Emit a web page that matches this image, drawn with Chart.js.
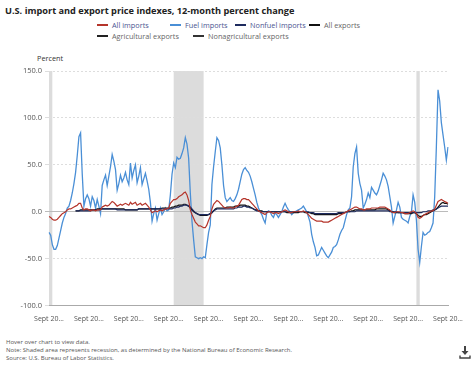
<!DOCTYPE html>
<html>
<head>
<meta charset="utf-8">
<script src="https://cdn.jsdelivr.net/npm/chart.js@4.4.1/dist/chart.umd.min.js"></script>
<style>
  body { margin: 0; background: #fff; font-family: "Open Sans", sans-serif; }
  #wrap { position: relative; width: 475px; height: 366px; overflow: hidden; }
  .title { position: absolute; left: 5px; top: 4px; font-size: 9.2px; font-weight: bold; color: #222; white-space: nowrap; }
  .leg { position: absolute; font-size: 7.3px; display: flex; align-items: center; white-space: nowrap; line-height: 10px; }
  .leg i { display: inline-block; width: 11px; height: 2px; margin-right: 4px; }
  .unit { position: absolute; left: 37px; top: 53px; font-size: 7.3px; color: #333; }
  #box { position: absolute; left: 0; top: 50px; width: 475px; height: 282px; }
  .foot { position: absolute; left: 6px; top: 338px; font-size: 6px; line-height: 8px; color: #555; }
  .dl { position: absolute; left: 459px; top: 345px; }
</style>
</head>
<body>
<div id="wrap">
  <div class="title">U.S. import and export price indexes, 12-month percent change</div>
  <div id="legend"></div>
  <div class="unit">Percent</div>
  <div id="box"><canvas id="chart"></canvas></div>
  <div class="foot">Hover over chart to view data.<br>Note: Shaded area represents recession, as determined by the National Bureau of Economic Research.<br>Source: U.S. Bureau of Labor Statistics.</div>
  <svg class="dl" width="12" height="14" viewBox="0 0 12 14">
    <path d="M6 1 V8" stroke="#444" stroke-width="2"/>
    <path d="M2.5 6 L9.5 6 L6 10 Z" fill="#444"/>
    <path d="M1 10.5 V13 H11 V10.5" stroke="#444" stroke-width="1.4" fill="none"/>
  </svg>
</div>
<script>
// months run Sept 2001 .. Sept 2021
const monthNames = ['Sept','Oct','Nov','Dec','Jan','Feb','Mar','Apr','May','June','July','Aug'];
const firstYear = 2001;
const monthCount = 241;

const seriesNames = ['All imports', 'Fuel imports', 'Nonfuel imports', 'All exports', 'Agricultural exports', 'Nonagricultural exports'];
const seriesColors = ['#b5352b', '#4a8fd6', '#1e2b5e', '#111111', '#222222', '#333333'];

// recessions (NBER), as month labels
const recessionStart = ['Sept 2001', 'Dec 2007', 'Feb 2020'];
const recessionEnd = ['Nov 2001', 'June 2009', 'Apr 2020'];

const yTicks = [-100, -50, 0, 50, 100, 150];

const fuelImports = [
  -22,-25,-35,-40,-40,-36,-28,-20,-12,-6,-2,4,
  6,12,20,30,42,60,80,84,40,6,14,18,
  14,6,16,12,4,13,6,-2,28,34,39,28,
  38,48,61,54,45,23,30,39,32,36,42,34,
  29,52,36,44,50,31,38,47,29,35,41,33,
  24,10,-10,-2,4,-9,-2,4,-3,0,4,1,
  2,18,40,52,47,58,56,57,62,68,79,72,
  57,20,-10,-30,-48,-49,-50,-49,-50,-48,-49,-35,
  -22,-14,29,48,64,79,76,68,50,28,15,11,
  13,15,12,11,14,18,24,32,40,45,47,44,
  42,38,32,25,18,10,4,0,-3,-8,-12,-1,
  1,0,-4,-6,-1,-3,-6,-3,0,5,9,5,
  2,0,-3,-1,0,1,2,3,4,6,3,0,
  -5,-11,-24,-32,-38,-47,-46,-42,-38,-41,-44,-47,
  -49,-46,-43,-38,-37,-35,-30,-24,-20,-17,-10,-3,
  2,4,16,48,62,69,41,30,23,4,8,13,
  20,15,26,23,20,18,22,28,34,41,38,34,
  27,16,5,-12,-5,2,10,5,-6,-8,-9,-10,
  -12,-5,0,18,10,-9,-40,-54,-37,-22,-25,-24,
  -22,-21,-17,-12,16,69,130,118,95,82,69,55,
  69
];

const allImports = [
  -5,-6,-8,-9,-9,-8,-6,-4,-2,-1,0,2,
  3,3,4,5,6,7,9,9,4,2,3,3,
  2,1,2,2,1,2,2,2,5,6,7,6,
  7,9,11,10,8,6,7,8,7,8,9,8,
  7,10,8,9,10,7,8,9,7,8,9,7,
  5,2,-1,0,1,0,1,2,1,2,3,3,
  4,9,11,13,13,14,16,17,18,20,21,18,
  12,2,-3,-7,-11,-13,-15,-15,-16,-17,-17,-14,
  -9,-5,3,8,10,12,11,9,7,5,4,4,
  4,5,4,4,5,6,7,10,13,14,14,13,
  13,11,9,7,5,3,1,0,-1,-2,-3,-1,
  0,0,-1,-2,-1,-1,-2,-1,0,1,2,1,
  0,-1,-1,0,0,0,1,0,0,1,0,-1,
  -3,-5,-7,-8,-9,-10,-10,-10,-10,-11,-11,-11,
  -11,-10,-9,-8,-7,-6,-5,-4,-3,-2,-1,0,
  1,2,3,4,5,5,4,3,3,2,2,3,
  3,3,4,4,4,4,4,5,5,5,5,4,
  3,2,0,-1,-1,0,0,0,-1,-1,-2,-2,
  -2,-1,0,1,0,-2,-6,-7,-6,-4,-3,-2,
  -1,0,1,1,3,7,11,12,13,12,11,10,
  9
];

const nonfuelImports = [
  null,null,null,null,null,null,null,null,null,null,null,null,
  null,null,null,null,1,1,1,1,1,1,1,1,
  1,1,2,2,2,2,2,3,3,3,3,3,
  3,3,3,3,3,2,2,2,2,2,2,2,
  2,2,2,2,2,2,3,3,3,3,3,3,
  3,3,3,3,3,3,3,3,3,3,3,3,
  3,3,3,4,4,5,5,6,6,7,7,7,
  6,5,3,1,-1,-2,-3,-3,-3,-3,-3,-3,
  -3,-2,-1,1,2,3,3,3,3,3,3,3,
  3,3,3,3,4,4,5,5,5,6,6,5,
  5,4,4,3,2,1,1,0,0,0,0,0,
  0,0,0,0,0,0,0,0,0,0,0,0,
  0,0,0,0,0,0,0,0,0,0,0,0,
  0,-1,-1,-1,-2,-2,-2,-2,-2,-2,-2,-2,
  -2,-2,-2,-2,-2,-2,-1,-1,-1,-1,-1,0,
  0,0,0,0,0,1,1,1,1,1,1,1,
  1,1,1,1,1,1,1,1,1,1,1,1,
  1,0,0,0,0,0,-1,-1,-1,-1,-1,-1,
  -1,-1,-1,-1,-1,-1,-1,-1,-1,0,0,0,
  1,1,1,2,2,3,4,5,6,6,6,6,
  6
];

const allExports = [
  null,null,null,null,null,null,null,null,null,null,null,null,
  null,null,null,null,1,1,1,2,2,2,2,2,
  2,2,2,2,2,3,3,3,3,3,3,3,
  3,3,3,3,3,3,3,3,3,3,2,2,
  2,2,2,2,2,2,3,3,3,3,3,3,
  3,3,3,3,3,3,3,3,4,4,4,4,
  4,4,5,5,6,6,7,7,7,8,8,7,
  6,4,2,0,-1,-2,-3,-4,-4,-4,-4,-4,
  -3,-2,-1,1,3,4,4,4,4,4,4,5,
  5,5,5,5,6,6,6,7,7,7,7,6,
  6,5,4,3,2,2,1,1,1,0,0,0,
  0,0,0,0,0,0,0,0,0,0,0,-1,
  -1,-1,-1,-1,-1,-1,-1,0,0,0,-1,-1,
  -1,-1,-2,-2,-3,-3,-3,-3,-3,-3,-3,-3,
  -3,-3,-3,-3,-3,-3,-2,-2,-2,-1,-1,0,
  0,0,1,1,2,2,2,2,2,2,2,2,
  2,2,2,2,2,3,3,3,3,3,3,3,
  2,1,0,0,-1,-1,-1,-1,-1,-1,-2,-2,
  -2,-2,-2,-1,-1,-2,-4,-5,-5,-4,-3,-3,
  -2,-1,0,1,2,3,5,7,9,10,9,9,
  8
];

const agriculturalExports = [];
const nonagriculturalExports = [];

const seriesData = [allImports, fuelImports, nonfuelImports, allExports, agriculturalExports, nonagriculturalExports];

// month labels
const labels = [];
for (let i = 0; i < monthCount; i++) {
  labels.push(monthNames[i % 12] + ' ' + (firstYear + Math.floor((i + 8) / 12)));
}

// html legend, two rows like the original
const legendPos = [[97, 20], [170, 20], [235, 20], [309, 20], [97, 31], [193, 31]];
const legendText = ['#4b5590', '#4b5590', '#4b5590', '#666', '#666', '#666'];
const legendEl = document.getElementById('legend');
seriesNames.forEach(function(name, i) {
  const d = document.createElement('div');
  d.className = 'leg';
  d.style.left = legendPos[i][0] + 'px';
  d.style.top = legendPos[i][1] + 'px';
  d.style.color = legendText[i];
  d.innerHTML = '<i style="background:' + seriesColors[i] + '"></i>' + name;
  legendEl.appendChild(d);
});

// grey recession bands
const recessionBands = {
  id: 'recessionBands',
  beforeDraw(chart) {
    const ctx = chart.ctx;
    const x = chart.scales.x;
    const area = chart.chartArea;
    ctx.save();
    ctx.fillStyle = '#dcdcdc';
    for (let i = 0; i < recessionStart.length; i++) {
      const x0 = x.getPixelForValue(labels.indexOf(recessionStart[i]));
      const x1 = x.getPixelForValue(labels.indexOf(recessionEnd[i]));
      ctx.fillRect(x0, area.top, Math.max(x1 - x0, 3), area.bottom - area.top);
    }
    ctx.restore();
  }
};

const font = { family: '"Open Sans", sans-serif' };

new Chart(document.getElementById('chart'), {
  type: 'line',
  data: {
    labels: labels,
    datasets: seriesNames.map(function(name, i) {
      return {
        label: name,
        data: seriesData[i],
        borderColor: seriesColors[i],
        backgroundColor: seriesColors[i],
        borderWidth: i === 1 ? 1.3 : 1.2,
        pointRadius: 0,
        tension: 0,
        order: i === 1 ? 5 : i
      };
    })
  },
  options: {
    responsive: true,
    maintainAspectRatio: false,
    animation: false,
    layout: { padding: { top: 21, right: 27, bottom: 0, left: 0 } },
    plugins: { legend: { display: false }, tooltip: { enabled: false } },
    scales: {
      x: {
        grid: { display: false, drawTicks: false },
        border: { display: true, color: '#aaa' },
        ticks: {
          autoSkip: false,
          maxRotation: 0,
          padding: 9,
          color: '#555',
          font: Object.assign({ size: 7 }, font),
          callback: function(val, i) {
            if (i % 24 !== 0) return null;
            return this.getLabelForValue(val).slice(0, 7) + '...';
          }
        }
      },
      y: {
        min: yTicks[0],
        max: yTicks[yTicks.length - 1],
        afterFit: function(s) { s.width = 49; },
        afterBuildTicks: function(s) { s.ticks = yTicks.map(function(v) { return { value: v }; }); },
        ticks: {
          padding: 3,
          color: '#555',
          font: Object.assign({ size: 7.5 }, font),
          callback: function(v) { return v.toFixed(1); }
        },
        grid: {
          tickLength: 4,
          color: function(c) { return c.tick && c.tick.value === 0 ? '#bbb' : '#ddd'; }
        },
        border: {
          display: false,
          dash: function(c) { return c.tick && c.tick.value === 0 ? [] : [2, 2]; }
        }
      }
    }
  },
  plugins: [recessionBands]
});
</script>
</body>
</html>
